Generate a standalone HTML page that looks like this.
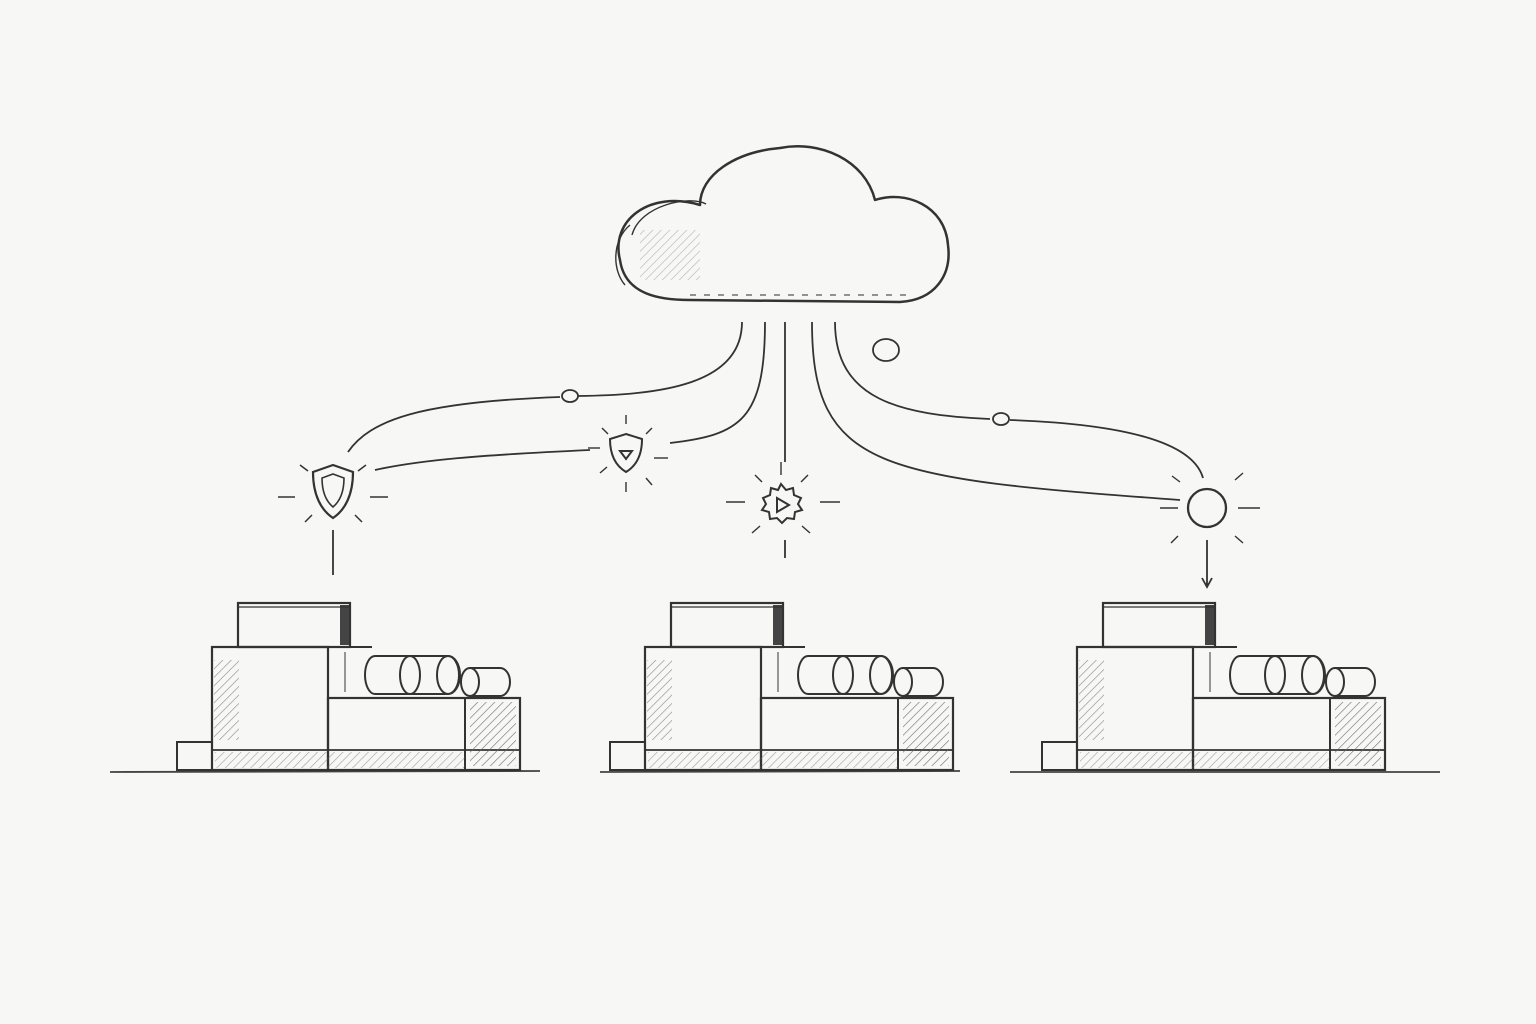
<!DOCTYPE html>
<html><head><meta charset="utf-8"><style>
html,body{margin:0;padding:0;background:#f7f7f5;}
svg{display:block}
</style></head><body>
<svg width="1536" height="1024" viewBox="0 0 1536 1024" xmlns="http://www.w3.org/2000/svg">
<defs>
<pattern id="h" width="6" height="6" patternUnits="userSpaceOnUse" patternTransform="rotate(45)">
<line x1="0" y1="0" x2="0" y2="6" stroke="#666" stroke-width="1.2"/>
</pattern>
<g id="m">
<rect x="177" y="742" width="35" height="28" fill="none" stroke="#333" stroke-width="2"/>
<rect x="212" y="647" width="116" height="123" fill="none" stroke="#333" stroke-width="2.2"/>
<rect x="214" y="660" width="25" height="80" fill="url(#h)" opacity=".8"/>
<line x1="212" y1="750" x2="520" y2="750" stroke="#333" stroke-width="1.8"/>
<rect x="238" y="603" width="112" height="44" fill="none" stroke="#333" stroke-width="2.2"/>
<rect x="340" y="605" width="9" height="40" fill="#444"/>
<line x1="238" y1="607" x2="350" y2="607" stroke="#333" stroke-width="1.2"/>
<rect x="328" y="698" width="192" height="72" fill="none" stroke="#333" stroke-width="2.2"/>
<rect x="470" y="702" width="46" height="64" fill="url(#h)" opacity="1"/>
<line x1="465" y1="698" x2="465" y2="770" stroke="#333" stroke-width="2"/>
<line x1="328" y1="647" x2="328" y2="698" stroke="#333" stroke-width="2"/>
<line x1="328" y1="647" x2="372" y2="647" stroke="#333" stroke-width="2"/>
<line x1="345" y1="652" x2="345" y2="692" stroke="#555" stroke-width="1.2"/>
<g fill="#f7f7f5" stroke="#333" stroke-width="2">
<path d="M470 668 L500 668 A10 14 0 0 1 500 696 L470 696 Z"/>
<ellipse cx="470" cy="682" rx="9" ry="14"/>
<path d="M375 656 L448 656 A12 19 0 0 1 448 694 L375 694 A10 19 0 0 1 375 656 Z"/>
<ellipse cx="410" cy="675" rx="10" ry="19"/>
<ellipse cx="448" cy="675" rx="11" ry="19"/>
</g>
<rect x="215" y="752" width="250" height="16" fill="url(#h)" opacity=".6"/>
</g>
</defs>
<path d="M110 772 L540 771 M600 772 L960 771 M1010 772 L1440 772" stroke="#444" stroke-width="1.8" fill="none"/>
<use href="#m"/>
<use href="#m" x="433"/>
<use href="#m" x="865"/>
<g fill="none" stroke="#333" stroke-width="2.5" stroke-linejoin="round">
<path d="M700 205 C650 190 610 220 620 260 C625 295 660 300 690 300 L900 302 C935 300 952 275 948 245 C945 205 905 190 875 200 C865 160 820 140 780 148 C735 152 700 175 700 205 Z"/>
<path d="M706 204 C690 195 640 205 632 235" stroke-width="1.4"/>
<path d="M630 225 C612 240 612 270 625 285" stroke-width="1.4"/>
</g>
<rect x="640" y="230" width="60" height="50" fill="url(#h)" opacity=".5"/>
<path d="M690 295 L910 295" stroke="#555" stroke-width="1.2" stroke-dasharray="6 8"/>
<g fill="none" stroke="#333" stroke-width="1.8">
<path d="M742 322 C742 385 660 395 578 396"/>
<path d="M560 397 C420 402 370 420 348 452"/>
<path d="M765 322 C765 420 740 435 670 443"/>
<path d="M590 450 C480 455 420 460 375 470"/>
<path d="M785 322 L785 462"/>
<path d="M812 322 C812 470 880 478 1180 500"/>
<path d="M835 322 C835 400 900 415 990 419"/>
<path d="M1010 420 C1150 425 1195 450 1203 478"/>
<path d="M333 530 L333 575"/>
<path d="M785 540 L785 558"/>
<path d="M1207 540 L1207 585 M1202 578 L1207 587 L1212 578"/>
</g>
<g fill="#f7f7f5" stroke="#333" stroke-width="1.8">
<ellipse cx="570" cy="396" rx="8" ry="6"/>
<ellipse cx="1001" cy="419" rx="8" ry="6"/>
<ellipse cx="886" cy="350" rx="13" ry="11"/>
</g>
<g fill="none" stroke="#333" stroke-width="2.2">
<path d="M333 465 L353 472 C353 495 345 510 333 518 C321 510 313 495 313 472 Z"/>
<path d="M333 474 L344 478 C344 493 339 502 333 507 C327 502 322 493 322 478 Z" stroke-width="1.6"/>
</g>
<g stroke="#333" stroke-width="1.5">
<line x1="278" y1="497" x2="295" y2="497"/><line x1="370" y1="497" x2="388" y2="497"/>
<line x1="300" y1="465" x2="308" y2="471"/><line x1="366" y1="465" x2="358" y2="471"/>
<line x1="305" y1="522" x2="312" y2="515"/><line x1="362" y1="522" x2="355" y2="515"/>
</g>
<g fill="none" stroke="#333" stroke-width="2">
<path d="M626 434 L642 439 C642 456 636 466 626 472 C616 466 610 456 610 439 Z"/>
<path d="M620 451 L632 451 L626 459 Z"/>
</g>
<g stroke="#333" stroke-width="1.4">
<line x1="588" y1="448" x2="600" y2="448"/><line x1="654" y1="458" x2="668" y2="458"/>
<line x1="626" y1="415" x2="626" y2="424"/><line x1="626" y1="482" x2="626" y2="492"/>
<line x1="602" y1="428" x2="608" y2="434"/><line x1="652" y1="428" x2="646" y2="434"/>
<line x1="600" y1="473" x2="607" y2="467"/><line x1="652" y1="485" x2="646" y2="478"/>
</g>
<g fill="none" stroke="#333" stroke-width="2">
<path d="M781 484 l5 6 7-2 1 7 7 3-3 6 4 6-7 2-1 7-7-1-5 5-5-5-7 1-1-7-7-2 4-6-3-6 7-3 1-7 7 2 z"/>
<path d="M777 498 L789 505 L777 512 Z"/>
</g>
<g stroke="#333" stroke-width="1.4">
<line x1="726" y1="502" x2="745" y2="502"/><line x1="820" y1="502" x2="840" y2="502"/>
<line x1="781" y1="462" x2="781" y2="475"/>
<line x1="755" y1="475" x2="762" y2="482"/><line x1="808" y1="475" x2="801" y2="482"/>
<line x1="752" y1="533" x2="760" y2="526"/><line x1="810" y1="533" x2="802" y2="526"/>
</g>
<circle cx="1207" cy="508" r="19" fill="#f7f7f5" stroke="#333" stroke-width="2.3"/>
<g stroke="#333" stroke-width="1.4">
<line x1="1160" y1="508" x2="1178" y2="508"/><line x1="1238" y1="508" x2="1260" y2="508"/>
<line x1="1235" y1="480" x2="1243" y2="473"/><line x1="1235" y1="536" x2="1243" y2="543"/>
<line x1="1178" y1="536" x2="1171" y2="543"/><line x1="1180" y1="482" x2="1172" y2="476"/>
</g>
</svg>
</body></html>
